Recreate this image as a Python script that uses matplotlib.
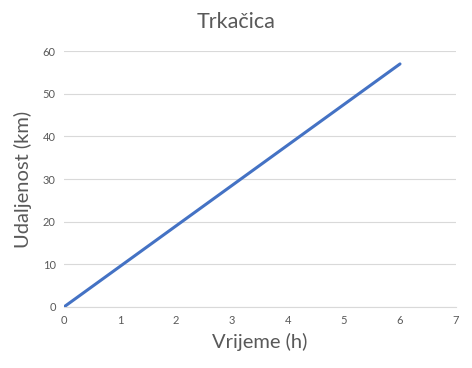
import matplotlib
matplotlib.use("Agg")
import matplotlib.pyplot as plt

# sati i prijedeni put
vrijeme = [0, 1, 2, 3, 4, 5, 6]
udaljenost = [0, 9.5, 19, 28.5, 38, 47.5, 57]
x_ticks = [0, 1, 2, 3, 4, 5, 6, 7]
y_ticks = [0, 10, 20, 30, 40, 50, 60]

txt = "#595959"
plt.rcParams['font.family'] = ['Lato', 'DejaVu Sans']

fig = plt.figure(figsize=(4.72, 3.68), dpi=100)
ax = fig.add_axes([0.1356, 0.166, 0.8305, 0.695])

ax.plot(vrijeme, udaljenost, color="#4472C4", lw=2.2, solid_capstyle="round", zorder=3)

ax.set_xlim(0, 7)
ax.set_ylim(0, 60)
ax.set_xticks(x_ticks)
ax.set_yticks(y_ticks)
ax.grid(axis="y", color="#D9D9D9", lw=0.8)
ax.set_axisbelow(True)
for s in ["top", "right", "left"]:
    ax.spines[s].set_visible(False)
ax.spines["bottom"].set_color("#D9D9D9")
ax.tick_params(length=0, labelsize=8, colors=txt, pad=6)

# naslov centriran na cijeloj slici, kao u Excelu
fig.text(0.5, 0.94, "Trkačica", fontsize=15.5, color=txt, ha="center", va="center")
ax.set_xlabel("Vrijeme (h)", fontsize=14.5, color=txt, labelpad=5)
ax.set_ylabel("Udaljenost (km)", fontsize=14.5, color=txt, labelpad=8)

fig.savefig("out.png", dpi=100)
